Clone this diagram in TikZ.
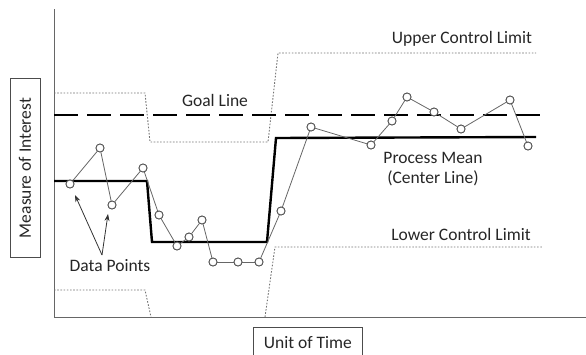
\documentclass[tikz,border=0pt]{standalone}
\usepackage{fontspec}
\setmainfont{Carlito}
\usetikzlibrary{arrows.meta}
\begin{document}
\begin{tikzpicture}[x=1pt,y=-1pt,
  lbl/.style={font=\fontsize{17.5}{20}\selectfont, text=black!85, inner sep=0pt},
  axis/.style={draw=black!60, line width=0.9pt},
  limit/.style={draw=black!55, line width=0.9pt, dash pattern=on 1.6pt off 1.6pt},
  goal/.style={draw=black, line width=2.6pt, dash pattern=on 24pt off 9pt},
  mean/.style={draw=black, line width=2.4pt},
  dline/.style={draw=black!60, line width=0.8pt},
  dot/.style={circle, draw=black!70, fill=white, line width=0.8pt, minimum size=8pt, inner sep=0pt},
  tbox/.style={draw=black!70, line width=0.8pt, fill=white, font=\fontsize{17.5}{20}\selectfont, text=black!85},
  arr/.style={draw=black!80, line width=0.8pt, -{Stealth[length=7pt,width=5pt]}}
]
\useasboundingbox (0,0) rectangle (586,354);
% axes
\coordinate (otop) at (54,9);
\coordinate (o) at (54,317);
\coordinate (xend) at (586,317);
\draw[axis] (otop) -- (o) -- (xend);
% control limits
\draw[limit] (54,93) -- (145,93) -- (150,142) -- (268,142) -- (278,53) -- (536,53);
\draw[limit] (54,290) -- (145,290) -- (151,317);
\draw[limit] (265,317) -- (275,247) -- (543,247);
% goal line
\draw[goal] (54,115) -- (543,115);
% process mean
\draw[mean] (54,181) -- (147,181) -- (152,242) -- (267,242) -- (276,138) -- (536,137);
% data points
\foreach \n/\x/\y in {1/70/184,2/100/148,3/112/205,4/143/168,5/159/215,6/177/246,7/189/237,8/202/220,9/213/262,10/238/262,11/259/262,12/281/211,13/311/127,14/371/145,15/392/121,16/407/97,17/434/112,18/461/129,19/510/100,20/528/146}
  \node[dot] (p\n) at (\x,\y) {};
\foreach \a/\b in {1/2,2/3,3/4,4/5,5/6,6/7,7/8,8/9,9/10,10/11,11/12,12/13,13/14,14/15,15/16,16/17,17/18,18/19,19/20}
  \draw[dline] (p\a) -- (p\b);
\foreach \n in {1,...,20}
  \node[dot] at (p\n) {};
% labels
\node[lbl] (ucl) at (462,39) {Upper Control Limit};
\node[lbl] (gl) at (215,100) {Goal Line};
\node[lbl, align=center] (pm) at (433,169) {Process Mean\\(Center Line)};
\node[lbl] (lcl) at (461,234) {Lower Control Limit};
\node[lbl] (dp) at (110,266) {Data Points};
\coordinate (dpo) at (102,255);
\coordinate (a1) at (75,195);
\coordinate (a2) at (108,214);
\draw[arr] (dpo) -- (a1);
\draw[arr] (dpo) -- (a2);
% axis titles
\node[tbox, rotate=90, minimum width=179pt, minimum height=30pt, inner sep=0pt] (ylab) at (25,168) {Measure of Interest};
\node[tbox, minimum width=109pt, minimum height=30pt, inner sep=0pt, anchor=north west] (xlab) at (253,327) {Unit of Time};
\end{tikzpicture}
\end{document}
